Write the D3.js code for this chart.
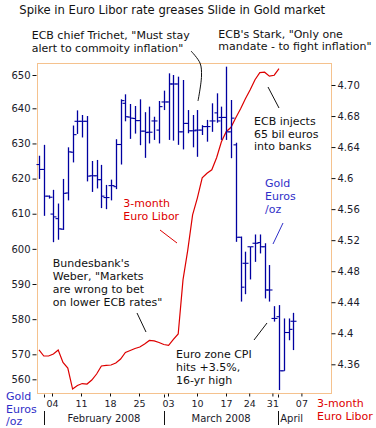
<!DOCTYPE html>
<html><head><meta charset="utf-8">
<script src="https://cdn.jsdelivr.net/npm/d3@7"></script>
<style>
body{margin:0;background:#fff}
svg{display:block}
text{font-family:"DejaVu Sans",Verdana,sans-serif}
</style>
</head><body>
<svg id="c" width="376" height="428"></svg>
<script>
// ---- data (gold in euros/oz, daily OHLC bars) ----
const goldHigh  = [626.5,629.6,615.2,616.8,612.9,619.9,628.9,635.1,639.4,638.1,637.8,625.0,625.3,623.9,618.2,619.7,631.2,642.7,644.2,641.3,640.7,642.7,638.9,640.5,637.6,642.2,645.3,650.5,650.0,649.5,648.5,639.5,638.1,639.5,635.2,636.7,641.5,644.5,640.5,652.5,642.5,630.2,603.5,599.2,600.6,604.1,604.1,601.6,595.4,583.7,584.0,580.2,580.2,581.8];
const goldLow   = [619.9,609.4,614.3,601.9,602.6,605.4,613.8,624.6,632.7,631.7,619.2,616.2,617.2,611.6,611.3,613.8,617.0,624.0,636.3,631.3,632.8,629.5,625.9,630.0,631.0,630.0,639.5,631.0,630.8,629.6,628.3,632.9,628.9,626.2,632.4,630.5,633.3,635.9,631.0,631.0,625.8,602.0,585.0,587.1,591.3,596.3,598.7,585.9,585.0,579.3,555.7,563.4,574.0,571.2];
const goldOpen  = [624.0,622.6,615.0,609.9,608.6,605.6,615.9,627.5,636.3,636.3,636.3,620.8,620.8,619.7,614.6,618.0,617.7,629.7,641.5,637.5,637.1,636.5,633.5,633.2,636.4,633.8,641.9,641.9,647.3,647.3,633.3,635.7,633.6,633.8,633.8,634.8,636.4,638.7,637.4,637.4,633.3,629.6,603.3,595.9,600.6,601.6,601.8,600.6,588.3,580.2,580.7,563.4,576.2,579.4];
const goldClose = [622.6,615.0,614.7,609.1,605.7,615.8,627.6,632.5,636.3,636.3,620.7,620.8,619.7,615.0,614.6,618.0,629.7,642.3,637.6,637.2,636.5,633.5,633.1,633.2,636.4,640.5,641.9,647.3,647.3,633.3,635.7,633.6,633.6,633.8,634.8,634.8,636.4,636.4,637.4,633.3,637.2,603.3,589.1,595.9,600.6,601.6,600.6,588.3,588.3,580.2,563.4,576.2,577.1,579.4];
// ---- 3-month Euro Libor (%) ----
const libor = [4.3785,4.3707,4.3707,4.3733,4.3785,4.3623,4.3552,4.3281,4.3326,4.3352,4.3346,4.3397,4.3475,4.3578,4.3585,4.3591,4.3617,4.3668,4.3752,4.3778,4.3804,4.3823,4.3862,4.3907,4.3901,4.3881,4.3855,4.3843,4.3920,4.3991,4.4688,4.5075,4.5526,4.5746,4.6004,4.6062,4.6107,4.6262,4.6468,4.6598,4.6655,4.6778,4.6894,4.7023,4.7139,4.7268,4.7359,4.7365,4.7314,4.7326,4.7410];
// ---- axes ----
const goldTicks = [560,570,580,590,600,610,620,630,640,650];
const liborTicks = [4.36,4.40,4.44,4.48,4.52,4.56,4.60,4.64,4.68,4.72];
const liborTickLabels = ["4.36","4.4","4.44","4.48","4.52","4.56","4.6","4.64","4.68","4.70"];
// trading-day index of weekly date ticks (Feb 1 2008 = 0)
const dayTickIdx = [1,6,11,16,21,26,31,35,39,44];
const dayTickLabels = ["04","11","18","25","03","10","17","24","31","07"];
const monthLabels = ["February 2008","March 2008","April"];
const monthStartIdx = [-0.4,20.3,40];
const monthEndIdx = [20.3,40,44.5];

const svg = d3.select("#c");
const L = 37.5, R = 331.5, T = 63.5, B = 393.5;

const yGold = d3.scaleLinear().domain([560,570,640,650]).range([379.3,354.3,108.3,75]);
const yLibor = d3.scaleLinear().domain([4.36,4.72]).range([364.3,85]);
const xBar = d3.scaleLinear().domain([0,53]).range([39,293.4]);
const xDay = d3.scaleLinear().domain([0,44]).range([46.2,301.4]);

const frameCol = "#f5c28e";
// frame
svg.append("rect").attr("x",L).attr("y",T).attr("width",R-L).attr("height",B-T)
  .attr("fill","none").attr("stroke",frameCol).attr("stroke-width",1);

// title
svg.append("text").attr("x",19.3).attr("y",13.5).attr("font-size",11.6).attr("fill","#111")
  .text("Spike in Euro Libor rate greases Slide in Gold market");

// left axis
const ga = svg.append("g").attr("transform",`translate(${L-1},0)`)
  .call(d3.axisLeft(yGold).tickValues(goldTicks).tickSize(4).tickPadding(2));
ga.select(".domain").remove();
ga.selectAll("text").attr("font-size",10).attr("fill","#1a1a2a").attr("font-family","DejaVu Sans");
ga.selectAll("line").attr("stroke","#111");

// right axis
const ra = svg.append("g").attr("transform",`translate(${R},0)`)
  .call(d3.axisRight(yLibor).tickValues(liborTicks).tickFormat((d,i)=>liborTickLabels[i]).tickSize(4).tickPadding(2));
ra.select(".domain").remove();
ra.selectAll("text").attr("font-size",10).attr("fill","#1a1a2a").attr("font-family","DejaVu Sans");
ra.selectAll("line").attr("stroke","#111");

// bottom axis
const ba = svg.append("g").attr("transform",`translate(0,${B})`)
  .call(d3.axisBottom(xDay).tickValues(dayTickIdx).tickFormat((d,i)=>dayTickLabels[i]).tickSize(3).tickPadding(4));
ba.select(".domain").remove();
ba.selectAll("text").attr("font-size",9.5).attr("fill","#1a1a2a").attr("font-family","DejaVu Sans");
ba.selectAll("line").attr("stroke","#111");
// month separators
svg.selectAll(".msep").data(monthStartIdx).join("line")
  .attr("x1",d=>Math.round(xDay(d))+0.5).attr("x2",d=>Math.round(xDay(d))+0.5)
  .attr("y1",B+1).attr("y2",B+4).attr("stroke","#111");
svg.selectAll(".msep2").data(monthStartIdx).join("line")
  .attr("x1",d=>Math.round(xDay(d))+0.5).attr("x2",d=>Math.round(xDay(d))+0.5)
  .attr("y1",411).attr("y2",425).attr("stroke","#111");
svg.selectAll(".mlab").data(monthLabels).join("text")
  .attr("x",(d,i)=> i<2 ? xDay((monthStartIdx[i]+monthEndIdx[i])/2) : xDay(monthStartIdx[i])+2)
  .attr("text-anchor",(d,i)=> i<2 ? "middle":"start")
  .attr("y",422).attr("font-size",10).attr("fill","#1a1a2a").text(d=>d);

// libor line
svg.append("path").datum(libor)
  .attr("d",d3.line().x((d,i)=>xBar(i)).y(d=>yLibor(d)))
  .attr("fill","none").attr("stroke","#dd0000").attr("stroke-width",1.2);

// gold OHLC bars
const barCol = "#0000a0";
const bars = svg.append("g").attr("stroke",barCol);
goldHigh.forEach((h,i)=>{
  const x = Math.round(xBar(i))+0.5;
  bars.append("line").attr("x1",x).attr("x2",x).attr("y1",yGold(h)).attr("y2",yGold(goldLow[i])).attr("stroke-width",1.3);
  bars.append("line").attr("x1",x-3).attr("x2",x).attr("y1",yGold(goldOpen[i])).attr("y2",yGold(goldOpen[i])).attr("stroke-width",1.1);
  bars.append("line").attr("x1",x).attr("x2",x+3).attr("y1",yGold(goldClose[i])).attr("y2",yGold(goldClose[i])).attr("stroke-width",1.1);
});

// annotations
const notes = [
  {x:31.7,y:39.3,lh:12.4,c:"#111",lines:['ECB chief Trichet, "Must stay','alert to commoity inflation"']},
  {x:218.3,y:37.7,lh:12.3,c:"#111",lines:["ECB's Stark, \"Only one",'mandate - to fight inflation"']},
  {x:254,y:125,lh:12.5,c:"#111",lines:["ECB injects","65 bil euros","into banks"]},
  {x:265,y:187,lh:13,c:"#2f2fc8",lines:["Gold","Euros","/oz"]},
  {x:123.3,y:207,lh:13,c:"#dd0000",lines:["3-month","Euro Libor"]},
  {x:52.7,y:266.5,lh:13,c:"#111",lines:["Bundesbank's",'Weber, "Markets',"are wrong to bet",'on lower ECB rates"']},
  {x:176,y:358,lh:13,c:"#111",lines:["Euro zone CPI","hits +3.5%,","16-yr high"]},
  {x:6,y:400,lh:12.5,c:"#2f2fc8",lines:["Gold","Euros","/oz"]},
  {x:317,y:407,lh:13,c:"#dd0000",lines:["3-month","Euro Libor"]}
];
notes.forEach(n=>{
  const t = svg.append("text").attr("font-size",11).attr("fill",n.c);
  n.lines.forEach((s,k)=>t.append("tspan").attr("x",n.x).attr("y",n.y+k*n.lh).text(s));
});

// leader lines
const leaders = [
  {c:"#111",p:[[191,51],[200,63],[201.5,76],[198,101]],curve:true},
  {c:"#111",p:[[268,87],[279,108]]},
  {c:"#2f2fc8",p:[[283,223],[273,244]]},
  {c:"#dd0000",p:[[160,230],[177,243]]},
  {c:"#111",p:[[137,313],[146,332]]},
  {c:"#111",p:[[254,340],[267,323]]}
];
leaders.forEach(l=>{
  svg.append("path").attr("d",d3.line().curve(l.curve?d3.curveCatmullRom:d3.curveLinear)(l.p))
    .attr("fill","none").attr("stroke",l.c).attr("stroke-width",1);
});
</script>
</body></html>
